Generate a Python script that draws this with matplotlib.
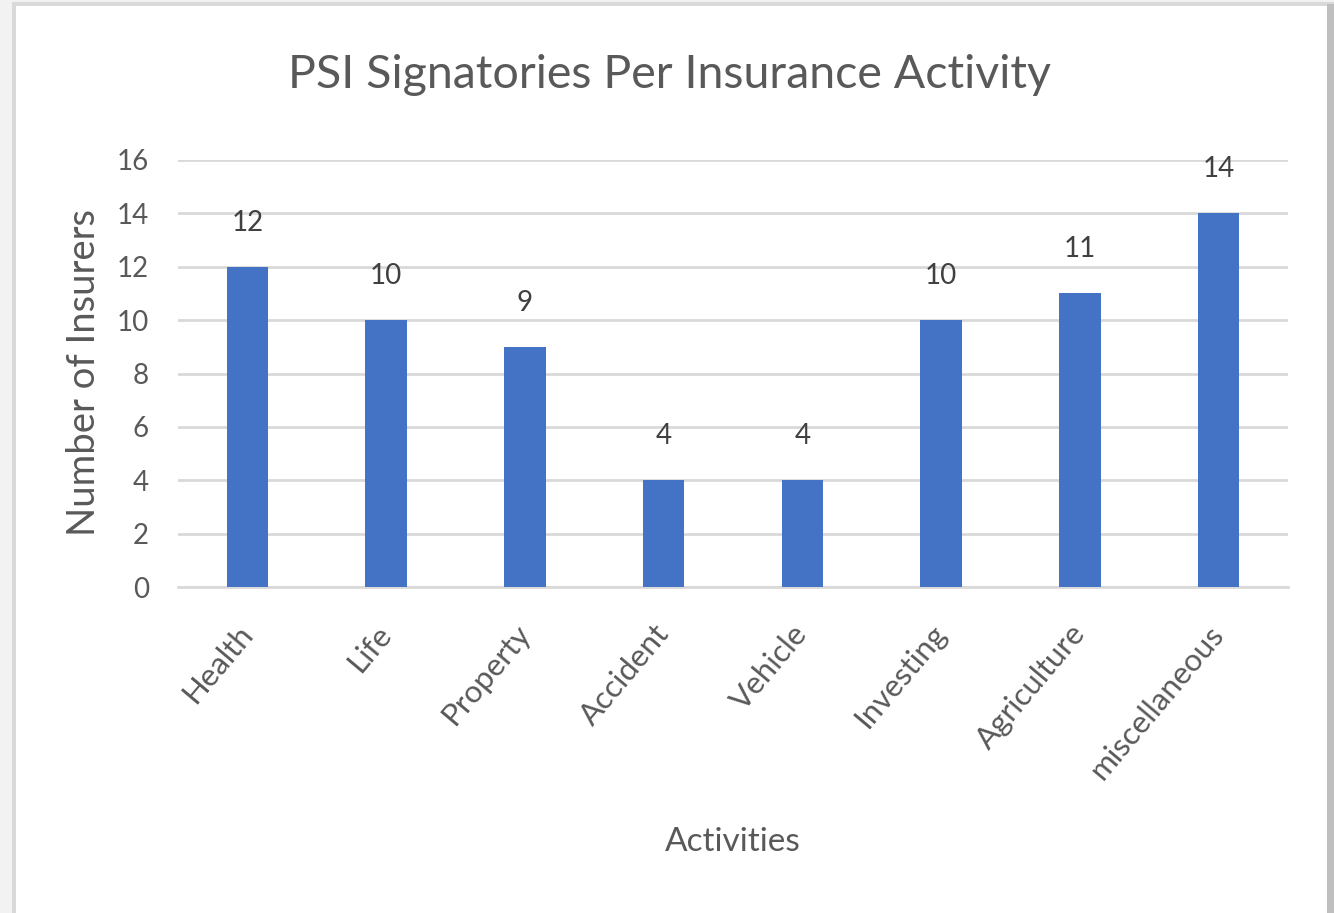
import matplotlib
matplotlib.use("Agg")
import matplotlib.pyplot as plt
from matplotlib.patches import Rectangle

categories = ["Health", "Life", "Property", "Accident", "Vehicle", "Investing", "Agriculture", "miscellaneous"]
values = [12, 10, 9, 4, 4, 10, 11, 14]
yticks = [0, 2, 4, 6, 8, 10, 12, 14, 16]

W, H = 1334, 913
fig = plt.figure(figsize=(W/100, H/100), dpi=100)
fig.patch.set_facecolor("#f2f2f2")
plt.rcParams['font.family'] = ['Lato', 'DejaVu Sans']

# frame
fig.patches.append(Rectangle((12/W, 0), (1334-12)/W, 1 - 2/H, transform=fig.transFigure,
                             facecolor="#d9d9d9", edgecolor="none", zorder=-3))
fig.patches.append(Rectangle((1327/W, 0), 7/W, 1 - 4/H, transform=fig.transFigure,
                             facecolor="#bfbfbf", edgecolor="none", zorder=-2))
fig.patches.append(Rectangle((16/W, 0), (1327-16)/W, 1 - 6/H, transform=fig.transFigure,
                             facecolor="white", edgecolor="none", zorder=-1))

text_color = "#595959"
left, right = 178/W, 1288/W
bottom, top = 1 - 587/H, 1 - 160/H
ax = fig.add_axes([left, bottom, right - left, top - bottom])
ax.set_facecolor("none")

x = range(len(categories))
bars = ax.bar(x, values, width=0.3, color="#4472C4", zorder=3)
ax.set_xlim(-0.5, len(categories) - 0.5)
ax.set_ylim(0, 16)
ax.set_yticks(yticks)
ax.set_yticklabels([str(t) for t in yticks], fontsize=20, color=text_color)
ax.yaxis.grid(True, color="#d9d9d9", linewidth=2, zorder=0)
ax.set_axisbelow(True)
for s in ["top", "right", "left"]:
    ax.spines[s].set_visible(False)
ax.spines["bottom"].set_color("#d9d9d9")
ax.spines["bottom"].set_linewidth(2)
ax.tick_params(axis="both", length=0)
ax.tick_params(axis="y", pad=21)

ax.set_xticks(list(x))
ax.set_xticklabels(categories, rotation=50, ha="right", va="center", rotation_mode="anchor",
                   fontsize=22.5, color=text_color)
ax.tick_params(axis="x", pad=30)

for xi, v in zip(x, values):
    ax.annotate(str(v), (xi, v), xytext=(0, 44), textcoords="offset pixels",
                ha="center", va="center", fontsize=20, color="#404040")

fig.text(84/W, 1 - 372/H, "Number of Insurers", rotation=90, ha="center", va="center",
         fontsize=27.5, color=text_color)
fig.text(733/W, 1 - 842/H, "Activities", ha="center", va="center", fontsize=24, color=text_color)
fig.text(670/W, 1 - 75/H, "PSI Signatories Per Insurance Activity", ha="center", va="center",
         fontsize=33.5, color=text_color)

fig.savefig("out.png", dpi=100, facecolor=fig.get_facecolor())
